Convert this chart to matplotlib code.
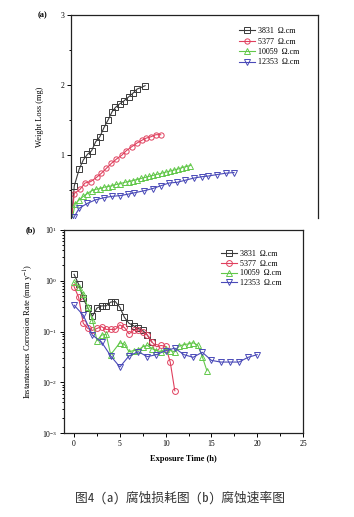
#!/usr/bin/env python

import numpy as np
import matplotlib as mpl
mpl.use('Agg')
import matplotlib.pyplot as plt
from matplotlib.ticker import MultipleLocator, LogLocator, NullFormatter

# (a) weight loss (mg) vs exposure time (h)
wl_labels = ['3831  \u03a9.cm', '5377  \u03a9.cm', '10059  \u03a9.cm', '12353  \u03a9.cm']
wl_t_3831 = [0, 0.4, 1.0, 1.5, 2.0, 2.5, 3.0, 3.5, 4.0, 4.5, 5.0, 5.4, 5.9, 6.4, 7.0, 7.5, 8.0, 9.0]
wl_3831 = [0, 0.56, 0.80, 0.93, 1.01, 1.06, 1.19, 1.26, 1.39, 1.50, 1.62, 1.68, 1.73, 1.77, 1.83, 1.88, 1.94, 1.99]
wl_t_5377 = [0, 0.4, 1.1, 1.7, 2.4, 3.1, 3.7, 4.3, 4.9, 5.5, 6.2, 6.7, 7.4, 8.0, 8.6, 9.1, 9.7, 10.3, 10.9]
wl_5377 = [0, 0.45, 0.51, 0.60, 0.62, 0.68, 0.74, 0.81, 0.88, 0.94, 1.00, 1.06, 1.12, 1.17, 1.21, 1.24, 1.26, 1.29, 1.29]
wl_t_10059 = [0, 0.5, 1.0, 1.5, 2.0, 2.5, 3.0, 3.5, 4.0, 4.5, 5.0, 5.5, 6.0, 6.5, 7.0, 7.5, 8.0,
              8.5, 9.0, 9.5, 10.0, 10.5, 11.0, 11.5, 12.0, 12.5, 13.0, 13.5, 14.0, 14.5]
wl_10059 = [0, 0.30, 0.36, 0.41, 0.45, 0.49, 0.51, 0.52, 0.54, 0.55, 0.56, 0.58, 0.59, 0.61, 0.62, 0.635,
            0.65, 0.665, 0.68, 0.695, 0.71, 0.725, 0.74, 0.755, 0.77, 0.785, 0.80, 0.82, 0.835, 0.85]
wl_t_12353 = [0, 0.4, 1.0, 2.0, 3.0, 4.0, 5.0, 6.0, 6.9, 7.7, 8.9, 9.9, 10.9, 11.9, 12.9, 13.9, 14.9,
              15.9, 16.7, 17.7, 18.8, 19.8]
wl_12353 = [0, 0.12, 0.24, 0.31, 0.36, 0.39, 0.41, 0.42, 0.44, 0.46, 0.49, 0.52, 0.56, 0.60, 0.61, 0.64,
            0.67, 0.69, 0.70, 0.72, 0.74, 0.75]

# (b) instantaneous corrosion rate (mm/y) vs exposure time (h)
cr_t_3831 = [0, 0.5, 1.0, 1.5, 2.0, 2.5, 3.0, 3.5, 4.0, 4.5, 5.0, 5.5, 6.0, 6.5, 7.0, 7.5, 8.0, 8.5]
cr_3831 = [1.34, 0.85, 0.45, 0.29, 0.20, 0.29, 0.32, 0.32, 0.38, 0.39, 0.30, 0.19, 0.145, 0.13, 0.115,
           0.105, 0.085, 0.062]
cr_t_5377 = [0, 0.5, 1.0, 1.5, 2.0, 2.5, 3.0, 3.5, 4.0, 4.5, 5.0, 5.5, 6.0, 6.5, 7.0, 7.5, 8.0, 8.5,
             9.0, 9.5, 10.0, 10.5, 11.0]
cr_5377 = [0.77, 0.47, 0.145, 0.115, 0.105, 0.115, 0.125, 0.11, 0.11, 0.11, 0.135, 0.12, 0.09, 0.105,
           0.108, 0.097, 0.085, 0.062, 0.05, 0.053, 0.051, 0.025, 0.0068]
cr_t_10059 = [0, 0.5, 1.0, 1.5, 2.0, 2.5, 3.0, 3.5, 4.0, 5.0, 5.5, 6.0, 6.5, 7.0, 7.5, 8.0, 8.5, 9.0,
              9.5, 10.0, 10.5, 11.0, 11.5, 12.0, 12.5, 13.0, 13.5, 14.0, 14.5]
cr_10059 = [0.93, 0.75, 0.55, 0.30, 0.17, 0.066, 0.085, 0.088, 0.035, 0.06, 0.056, 0.04, 0.042, 0.043,
            0.05, 0.053, 0.046, 0.042, 0.04, 0.045, 0.042, 0.04, 0.052, 0.055, 0.057, 0.06, 0.054,
            0.032, 0.017]
cr_t_12353 = [0, 1, 2, 3, 4, 5, 6, 7, 8, 9, 10, 11, 12, 13, 14, 15, 16, 17, 18, 19, 20]
cr_12353 = [0.33, 0.21, 0.085, 0.062, 0.033, 0.02, 0.033, 0.04, 0.032, 0.035, 0.042, 0.047, 0.035,
            0.031, 0.039, 0.027, 0.025, 0.025, 0.025, 0.031, 0.035]

colors = ['#3a3a3a', '#e0405e', '#62c84a', '#4a4ab8']
markers = ['s', 'o', '^', 'v']
caption = '图4 (a) 腐蚀损耗图 (b) 腐蚀速率图'

plt.rcParams['font.family'] = ['Liberation Serif', 'DejaVu Serif']
plt.rcParams['mathtext.fontset'] = 'stix'


def style_axis(axis):
    axis.tick_params(which='both', direction='out', labelsize=5.5, width=0.7, pad=2)
    axis.tick_params(which='major', length=3)
    axis.tick_params(which='minor', length=1.8)
    for sp in axis.spines.values():
        sp.set_linewidth(0.9)
        sp.set_color('#222222')


def draw_series(axis, xs, ys, idx, ms):
    axis.plot(xs, ys, color=colors[idx], marker=markers[idx], mfc='none', mec=colors[idx],
              ms=ms, mew=0.7, lw=0.8, label=wl_labels[idx])


fig = plt.figure(figsize=(3.54, 5.17), dpi=100)

# ---- (a) weight loss
ax1 = fig.add_axes([71 / 354., 1 - 218 / 517., 247 / 354., 203 / 517.])
series_a = [(wl_t_3831, wl_3831), (wl_t_5377, wl_5377), (wl_t_10059, wl_10059), (wl_t_12353, wl_12353)]
for i, (xs, ys) in enumerate(series_a):
    draw_series(ax1, xs, ys, i, 3.8)
ax1.set_xlim(0, 30)
ax1.set_ylim(0.1, 3.0)
ax1.yaxis.set_major_locator(MultipleLocator(1))
ax1.yaxis.set_minor_locator(MultipleLocator(0.5))
ax1.set_xticks([])
ax1.spines['bottom'].set_visible(False)
style_axis(ax1)
ax1.set_ylabel('Weight Loss (mg)', fontsize=6, labelpad=12)
ax1.legend(loc='upper left', bbox_to_anchor=(0.665, 0.96), frameon=False, fontsize=5.8,
           handlelength=2.0, labelspacing=0.3, borderpad=0, handletextpad=0.3)
fig.text(43 / 354., 1 - 15 / 517., '(a)', fontsize=6, fontweight='bold', ha='center', va='center')

# ---- (b) corrosion rate
ax2 = fig.add_axes([64 / 354., 1 - 433 / 517., 239 / 354., 203 / 517.])
series_b = [(cr_t_3831, cr_3831), (cr_t_5377, cr_5377), (cr_t_10059, cr_10059), (cr_t_12353, cr_12353)]
for i, (xs, ys) in enumerate(series_b):
    draw_series(ax2, xs, ys, i, 4.2)
ax2.set_yscale('log')
ax2.set_xlim(-1.1, 25)
ax2.set_ylim(1e-3, 1e1)
ax2.xaxis.set_major_locator(MultipleLocator(5))
ax2.xaxis.set_minor_locator(MultipleLocator(2.5))
ax2.yaxis.set_major_locator(LogLocator(base=10, numticks=10))
ax2.yaxis.set_minor_locator(LogLocator(base=10, subs=np.arange(2, 10), numticks=10))
ax2.yaxis.set_minor_formatter(NullFormatter())
style_axis(ax2)
ax2.set_ylabel('Instantaneous Corrosion Rate (mm y$^{-1}$)', fontsize=6, labelpad=4)
ax2.set_xlabel('Exposure Time (h)', fontsize=6, fontweight='bold', labelpad=5)
ax2.legend(loc='upper left', bbox_to_anchor=(0.64, 0.92), frameon=False, fontsize=5.8,
           handlelength=2.0, labelspacing=0.2, borderpad=0, handletextpad=0.3)
fig.text(31 / 354., 1 - 230 / 517., '(b)', fontsize=6, fontweight='bold', ha='center', va='center')

fig.text(180 / 354., 1 - 498 / 517., caption, fontsize=9.2, ha='center', va='center', color='#333333',
         fontweight='light', family=['Noto Sans Mono CJK SC', 'Noto Sans CJK SC', 'DejaVu Sans'])

fig.savefig('out.png', dpi=100)
